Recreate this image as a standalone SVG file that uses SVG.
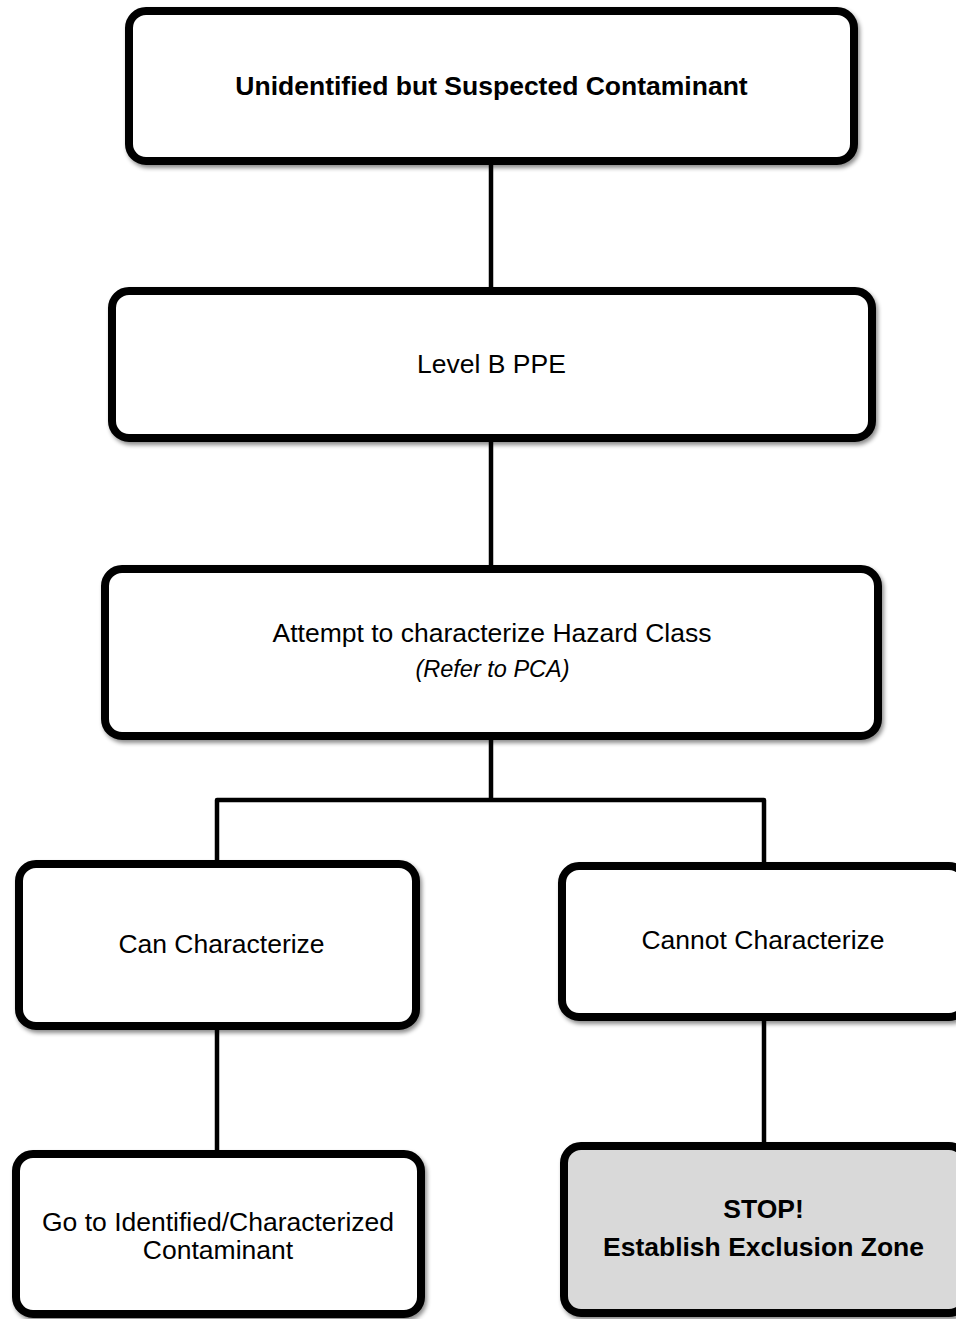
<svg xmlns="http://www.w3.org/2000/svg" width="956" height="1319" viewBox="0 0 956 1319">
  <style>
    .box { fill: #ffffff; stroke: #000000; stroke-width: 8; filter: url(#shadow); }
    .stop { fill: #d9d9d9; }
    .wire { fill: none; stroke: #000000; stroke-width: 4.5; stroke-linejoin: round; }
    .t { font-family: "Liberation Sans", Arial, sans-serif; font-size: 26.5px; fill: #000000; text-anchor: middle; }
    .b { font-weight: bold; }
    .i { font-style: italic; font-size: 23.5px; }
  </style>
  <defs>
    <filter id="shadow" x="-5%" y="-10%" width="115%" height="130%">
      <feDropShadow dx="2" dy="3" stdDeviation="2" flood-color="#000000" flood-opacity="0.45"/>
    </filter>
  </defs>

  <!-- connectors -->
  <g id="connectors">
    <line class="wire" x1="491" y1="164" x2="491" y2="288"/>
    <line class="wire" x1="491" y1="441" x2="491" y2="566"/>
    <path class="wire" d="M491 739 V800 M217 861 V800 H764 V863"/>
    <line class="wire" x1="217" y1="1029" x2="217" y2="1151"/>
    <line class="wire" x1="764" y1="1020" x2="764" y2="1143"/>
  </g>

  <g id="node-start">
    <rect class="box" x="129" y="11" width="725" height="150" rx="17"/>
    <text class="t b" x="491.5" y="95">Unidentified but Suspected Contaminant</text>
  </g>

  <g id="node-ppe">
    <rect class="box" x="112" y="291" width="760" height="147" rx="17"/>
    <text class="t" x="491.5" y="373">Level B PPE</text>
  </g>

  <g id="node-attempt">
    <rect class="box" x="105" y="569" width="773" height="167" rx="17"/>
    <text class="t" x="492" y="642">Attempt to characterize Hazard Class</text>
    <text class="t i" x="492.5" y="677">(Refer to PCA)</text>
  </g>

  <g id="node-can">
    <rect class="box" x="19" y="864" width="397" height="162" rx="17"/>
    <text class="t" x="221.5" y="953">Can Characterize</text>
  </g>

  <g id="node-cannot">
    <rect class="box" x="562" y="866" width="404" height="151" rx="17"/>
    <text class="t" x="763" y="949">Cannot Characterize</text>
  </g>

  <g id="node-goto">
    <rect class="box" x="16" y="1154" width="405" height="160" rx="17"/>
    <text class="t" x="218" y="1231">Go to Identified/Characterized</text>
    <text class="t" x="218" y="1259">Contaminant</text>
  </g>

  <g id="node-stop">
    <rect class="box stop" x="564" y="1146" width="402" height="167" rx="17"/>
    <text class="t b" x="763.5" y="1218">STOP!</text>
    <text class="t b" x="763.5" y="1256">Establish Exclusion Zone</text>
  </g>
</svg>
